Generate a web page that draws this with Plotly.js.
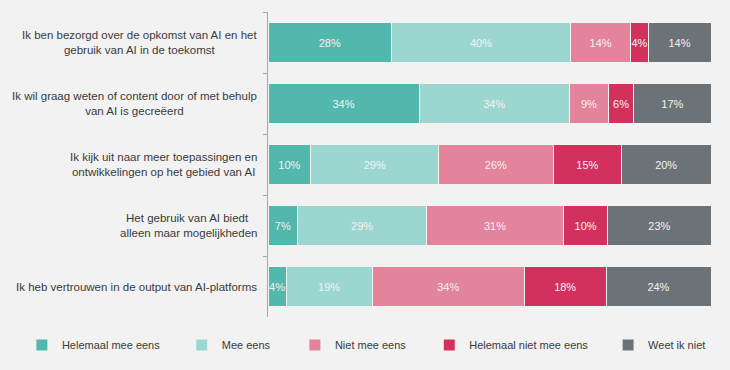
<!DOCTYPE html>
<html>
<head>
<meta charset="utf-8">
<script src="https://cdn.plot.ly/plotly-3.0.1.min.js"></script>
<style>
html,body{margin:0;padding:0;background:#f2f2f2;}
#chart{width:730px;height:370px;}
</style>
</head>
<body>
<div id="chart"></div>
<script>
// Categories (top to bottom)
const categories = [
  "Ik ben bezorgd over de opkomst van AI en het<br>gebruik van AI in de toekomst",
  "Ik wil graag weten of content door of met behulp<br>van AI is gecreëerd",
  "Ik kijk uit naar meer toepassingen en<br>ontwikkelingen op het gebied van AI",
  "Het gebruik van AI biedt <br>alleen maar mogelijkheden",
  "Ik heb vertrouwen in de output van AI-platforms"
];

// Series names
const seriesNames = ["Helemaal mee eens", "Mee eens", "Niet mee eens", "Helemaal niet mee eens", "Weet ik niet"];

// Series values (percent), per category in the order above
const helemaalMeeEens     = [27.9, 34.1,  9.7,  6.7,  4.1];
const meeEens             = [40.4, 34.0, 28.8, 29.1, 19.4];
const nietMeeEens         = [13.6,  8.7, 25.9, 30.9, 34.4];
const helemaalNietMeeEens = [ 3.9,  5.8, 15.4, 10.0, 18.4];
const weetIkNiet          = [14.2, 17.4, 20.2, 23.3, 23.7];

const seriesValues = [helemaalMeeEens, meeEens, nietMeeEens, helemaalNietMeeEens, weetIkNiet];
const colors = ["#52b8ae", "#9cd6d1", "#e3849c", "#d3315d", "#6b7379"];

// one legend per series so each entry sits where the reference puts it
const legendIds = ["legend", "legend2", "legend3", "legend4", "legend5"];
const legendX = [0.030, 0.249, 0.404, 0.588, 0.833];

const traces = seriesNames.map((name, i) => ({
  type: "bar",
  orientation: "h",
  name: name,
  legend: legendIds[i],
  y: categories,
  x: seriesValues[i],
  marker: {color: colors[i], line: {color: "#f4f4f4", width: 1}},
  texttemplate: "%{x:.0f}%",
  textposition: "inside",
  insidetextanchor: "middle",
  textangle: 0,
  textfont: {family: "Liberation Sans, Arial, sans-serif", size: 11, color: "#f2f2f2"},
  hoverinfo: "skip"
}));

const annotations = categories.map(c => ({
  xref: "paper", yref: "y",
  x: 0, y: c,
  xanchor: "right", yanchor: "middle",
  xshift: -9,
  align: "center",
  text: c,
  showarrow: false,
  font: {family: "Liberation Sans, Arial, sans-serif", size: 11.5, color: "#3a3a3a"}
}));

const layout = {
  width: 730, height: 370,
  barmode: "stack",
  bargap: 0.344,
  paper_bgcolor: "#f2f2f2",
  plot_bgcolor: "#f2f2f2",
  margin: {l: 268, r: 19, t: 12, b: 53},
  font: {family: "Liberation Sans, Arial, sans-serif", color: "#3a3a3a"},
  uniformtext: {mode: "show", minsize: 11},
  xaxis: {range: [0, 100], visible: false, fixedrange: true},
  yaxis: {
    type: "category",
    autorange: "reversed",
    showticklabels: false,
    showline: true, linecolor: "#a6a6a6", linewidth: 1,
    ticks: "outside", ticklen: 4, tickcolor: "#a6a6a6",
    tickson: "boundaries",
    showgrid: false, zeroline: false
  },
  showlegend: true,
  annotations: annotations
};

legendIds.forEach((id, i) => {
  layout[id] = {
    orientation: "h",
    xref: "container", yref: "container",
    x: legendX[i], xanchor: "left",
    y: 1 - 345 / 370, yanchor: "middle",
    font: {family: "Liberation Sans, Arial, sans-serif", size: 11, color: "#3a3a3a"},
    itemwidth: 30,
    bgcolor: "rgba(0,0,0,0)"
  };
});

Plotly.newPlot("chart", traces, layout, {displayModeBar: false, staticPlot: true});
</script>
</body>
</html>
